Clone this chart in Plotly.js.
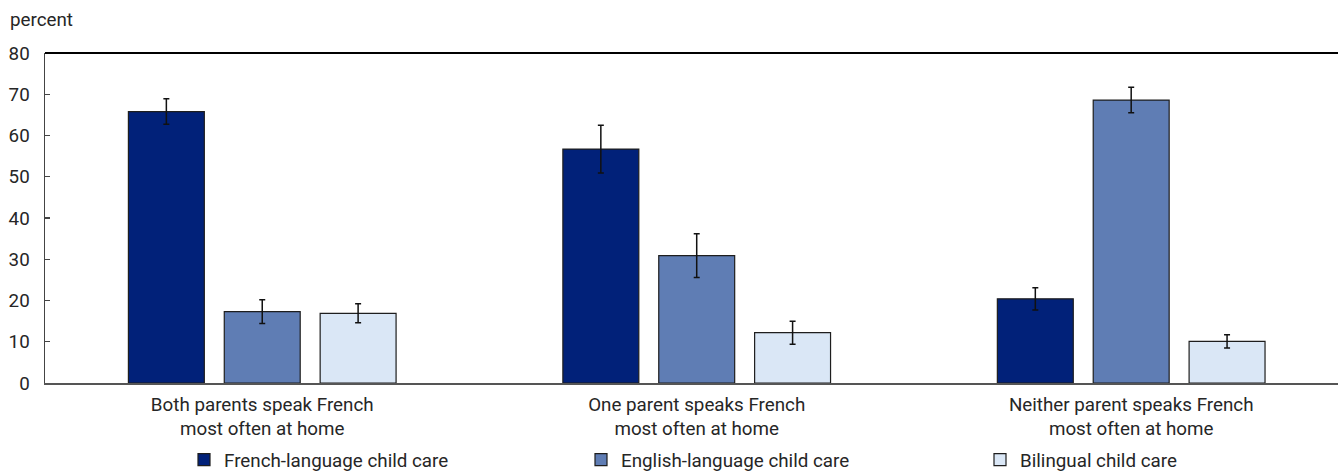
<!DOCTYPE html>
<html>
<head>
<meta charset="utf-8">
<script src="https://cdn.plot.ly/plotly-3.0.1.min.js"></script>
<style>
  html, body { margin: 0; padding: 0; background: #ffffff; }
  #chart { width: 1338px; height: 472px; }
</style>
</head>
<body>
<div id="chart"></div>
<script>
// Household language situation (category axis)
const categories = [
  'Both parents speak French<br>most often at home',
  'One parent speaks French<br>most often at home',
  'Neither parent speaks French<br>most often at home'
];

// Share of children, percent, by language of child care
const frenchCare    = [65.8, 56.7, 20.4];
const englishCare   = [17.3, 30.9, 68.6];
const bilingualCare = [16.9, 12.2, 10.1];

// Confidence interval half-widths, percentage points
const frenchErr    = [3.1, 5.8, 2.7];
const englishErr   = [2.9, 5.3, 3.1];
const bilingualErr = [2.3, 2.8, 1.6];

const seriesNames = ['French-language child care', 'English-language child care', 'Bilingual child care'];
const yTicks = [0, 10, 20, 30, 40, 50, 60, 70, 80];

const FONT = 'Roboto, "Liberation Sans", sans-serif';
const TXT = '#262626';
const colors = ['#012179', '#5f7db4', '#dae7f6'];
const legendIds = ['legend', 'legend2', 'legend3'];
const legendLeft = [184, 581, 980];   // pixel x of each legend box

function barTrace(i, y, err) {
  return {
    type: 'bar',
    name: seriesNames[i],
    legend: legendIds[i],
    x: categories,
    y: y,
    marker: { color: colors[i], line: { color: '#1e1e1e', width: 1.2 } },
    error_y: { type: 'data', array: err, visible: true, color: '#111111', thickness: 1.5, width: 3 },
    hoverinfo: 'y+name'
  };
}

const data = [
  barTrace(0, frenchCare, frenchErr),
  barTrace(1, englishCare, englishErr),
  barTrace(2, bilingualCare, bilingualErr)
];

function legendBox(i) {
  return {
    orientation: 'h',
    xref: 'container', yref: 'container',
    x: legendLeft[i] / 1338, xanchor: 'left',
    y: 12 / 472, yanchor: 'middle',
    font: { family: FONT, size: 18.8, color: TXT },
    bgcolor: 'rgba(0,0,0,0)',
    borderwidth: 0
  };
}

const layout = {
  width: 1338,
  height: 472,
  margin: { l: 45, r: 0, t: 53, b: 89, pad: 0 },
  paper_bgcolor: '#ffffff',
  plot_bgcolor: '#ffffff',
  font: { family: FONT, size: 18.8, color: TXT },
  barmode: 'group',
  bargap: 0.338,
  bargroupgap: 0.208,
  showlegend: true,
  legend: legendBox(0),
  legend2: legendBox(1),
  legend3: legendBox(2),
  xaxis: {
    type: 'category',
    range: [-0.5, 2.476],
    showgrid: false,
    zeroline: false,
    showline: true,
    linecolor: '#555555',
    linewidth: 2,
    ticks: '',
    ticklabelstandoff: 3,
    tickfont: { family: FONT, size: 18.8, color: TXT },
    fixedrange: true
  },
  yaxis: {
    range: [0, 80],
    tickvals: yTicks,
    ticktext: yTicks.map(String),
    showgrid: false,
    zeroline: false,
    showline: true,
    linecolor: '#444444',
    linewidth: 1.5,
    ticks: 'inside',
    ticklen: 5,
    tickwidth: 1.2,
    tickcolor: '#444444',
    ticklabelstandoff: 10,
    tickfont: { family: FONT, size: 18.8, color: TXT },
    fixedrange: true
  },
  shapes: [
    // closing frame line along the top of the plot area
    { type: 'line', xref: 'paper', yref: 'paper', x0: 0, x1: 1, y0: 1, y1: 1,
      line: { color: '#000000', width: 2 } }
  ],
  annotations: [
    { text: 'percent', xref: 'paper', yref: 'paper', x: -37 / 1293, y: 1, yshift: 33,
      xanchor: 'left', yanchor: 'middle', showarrow: false,
      font: { family: FONT, size: 18.8, color: TXT } }
  ]
};

Plotly.newPlot('chart', data, layout, { displayModeBar: false, staticPlot: true });
</script>
</body>
</html>
